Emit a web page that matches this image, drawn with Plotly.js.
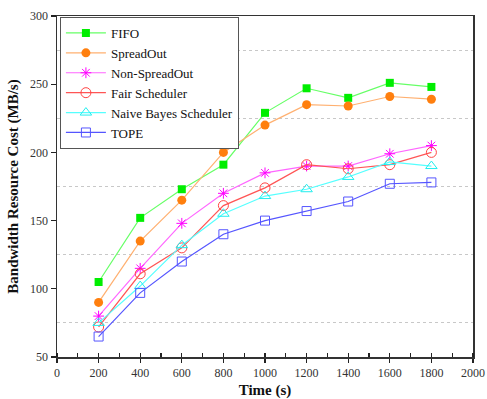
<!DOCTYPE html>
<html>
<head>
<meta charset="utf-8">
<script src="https://cdn.plot.ly/plotly-3.0.1.min.js"></script>
<style>html,body{margin:0;padding:0;background:#fff;}#chart{width:487px;height:399px;}</style>
</head>
<body>
<div id="chart"></div>
<script>
const times = [200, 400, 600, 800, 1000, 1200, 1400, 1600, 1800];
const fifo = [105, 152, 173, 191, 229, 247, 240, 251, 248];
const spreadOut = [90, 135, 165, 200, 220, 235, 234, 241, 239];
const nonSpreadOut = [80, 115, 148, 170, 185, 190, 190, 199, 205];
const fairScheduler = [72, 111, 130, 161, 174, 191, 188, 191, 200];
const naiveBayes = [75, 102, 132, 155, 168, 173, 182, 193, 190];
const tope = [65, 97, 120, 140, 150, 157, 164, 177, 178];
const seriesNames = ["FIFO", "SpreadOut", "Non-SpreadOut", "Fair Scheduler", "Naive Bayes Scheduler", "TOPE"];
const xTickVals = [0, 200, 400, 600, 800, 1000, 1200, 1400, 1600, 1800, 2000];
const yTickVals = [50, 100, 150, 200, 250, 300];

const styles = [
  {line: "#66ff66", marker: {symbol: "square", color: "#00ee00", size: 8}},
  {line: "#ffb070", marker: {symbol: "circle", color: "#ff7f0e", size: 9}},
  {line: "#ff66ff", marker: {symbol: "asterisk-open", color: "#ff00ff", size: 9, line: {color: "#ff00ff", width: 1}}},
  {line: "#ff5555", marker: {symbol: "circle-open", color: "#ff4444", size: 10, line: {color: "#ff4444", width: 1}}},
  {line: "#55ffff", marker: {symbol: "triangle-up-open", color: "#22eeee", size: 10, line: {color: "#22eeee", width: 1}}},
  {line: "#5555ff", marker: {symbol: "square-open", color: "#5555ff", size: 9, line: {color: "#5555ff", width: 1}}}
];
const allY = [fifo, spreadOut, nonSpreadOut, fairScheduler, naiveBayes, tope];
const traces = allY.map((ys, i) => ({
  x: times, y: ys, name: seriesNames[i], type: "scatter", mode: "lines+markers",
  line: {color: styles[i].line, width: 1.2},
  marker: styles[i].marker
}));

const serif = "Liberation Serif";
const layout = {
  width: 487, height: 399,
  margin: {l: 57, r: 14, t: 16, b: 42},
  paper_bgcolor: "#fff", plot_bgcolor: "#fff",
  font: {family: serif, size: 12, color: "#222"},
  showlegend: true,
  legend: {
    x: 0.007, y: 0.997, xanchor: "left", yanchor: "top",
    bgcolor: "#fff", bordercolor: "#555", borderwidth: 1,
    font: {family: serif, size: 13, color: "#111"},
    itemwidth: 40
  },
  xaxis: {
    range: [0, 2000], tickvals: xTickVals, ticktext: xTickVals.map(String),
    ticks: "outside", ticklen: 4, tickwidth: 1.2, tickcolor: "#222",
    showline: true, linecolor: "#333", linewidth: 1.5, mirror: true,
    showgrid: false, zeroline: false,
    minor: {dtick: 100, tick0: 0, ticks: "inside", ticklen: 4, tickcolor: "#222", showgrid: false},
    tickfont: {family: serif, size: 12, color: "#333"},
    title: {text: "<b>Time (s)</b>", font: {family: serif, size: 15, color: "#111"}, standoff: 6}
  },
  yaxis: {
    range: [50, 300], tickvals: yTickVals, ticktext: yTickVals.map(String),
    ticks: "outside", ticklen: 5, tickwidth: 1.2, tickcolor: "#222",
    showline: true, linecolor: "#333", linewidth: 1.5, mirror: true,
    showgrid: false, zeroline: false,
    minor: {dtick: 50, tick0: 25, ticks: "", showgrid: true, gridcolor: "#c8c8c8", griddash: "dot", gridwidth: 1},
    tickfont: {family: serif, size: 12, color: "#333"},
    title: {text: "<b>Bandwidth Resource Cost (MB/s)</b>", font: {family: serif, size: 15, color: "#111"}, standoff: 8}
  }
};
Plotly.newPlot("chart", traces, layout, {displayModeBar: false, staticPlot: true});
</script>
</body>
</html>
